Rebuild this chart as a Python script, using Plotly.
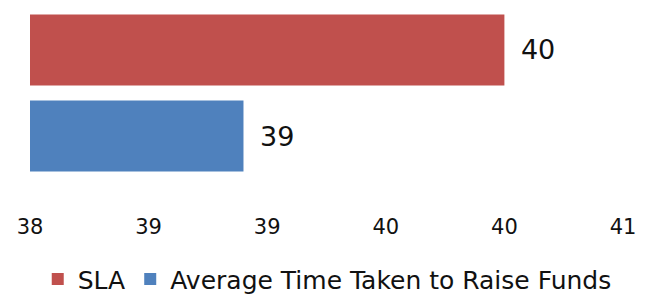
import plotly.graph_objects as go

series_names = ["SLA", "Average Time Taken to Raise Funds"]
series_values = [40.0, 38.9]
series_colors = ["#C0504D", "#4F81BD"]
tick_values = [38, 38.5, 39, 39.5, 40, 40.5]
tick_labels = ["38", "39", "39", "40", "40", "41"]

fig = go.Figure()
for name, val, col in zip(series_names, series_values, series_colors):
    fig.add_trace(go.Bar(
        y=[name], x=[val], name=name, orientation="h",
        marker=dict(color=col, line=dict(width=0)),
        texttemplate="\u2002%{x:.0f}", textposition="outside",
        textfont=dict(size=27, color="#111111", family="DejaVu Sans"),
        cliponaxis=False, width=0.825,
    ))

fig.update_layout(
    width=648, height=297,
    margin=dict(l=30, r=25, t=7, b=118, autoexpand=False),
    paper_bgcolor="white", plot_bgcolor="white",
    barmode="overlay",
    font=dict(family="DejaVu Sans", color="#111111"),
    showlegend=True,
    legend=dict(orientation="h", x=0.505, xanchor="center", xref="container",
                y=0.06, yanchor="middle", yref="container",
                font=dict(size=25, color="#111111"), traceorder="normal",
                itemwidth=30, tracegroupgap=0),
    xaxis=dict(range=[38, 40.5], tickvals=tick_values, ticktext=tick_labels,
               showgrid=False, zeroline=False, showline=False, ticks="",
               automargin=False,
               tickfont=dict(size=21, color="#111111"), ticklabelstandoff=33),
    yaxis=dict(categoryorder="array", categoryarray=series_names[::-1],
               showticklabels=False, showgrid=False, zeroline=False,
               showline=False, ticks="", automargin=False),
)

fig.write_html("out.html", config={"displayModeBar": False},
               post_script="document.body.style.margin='0';")
